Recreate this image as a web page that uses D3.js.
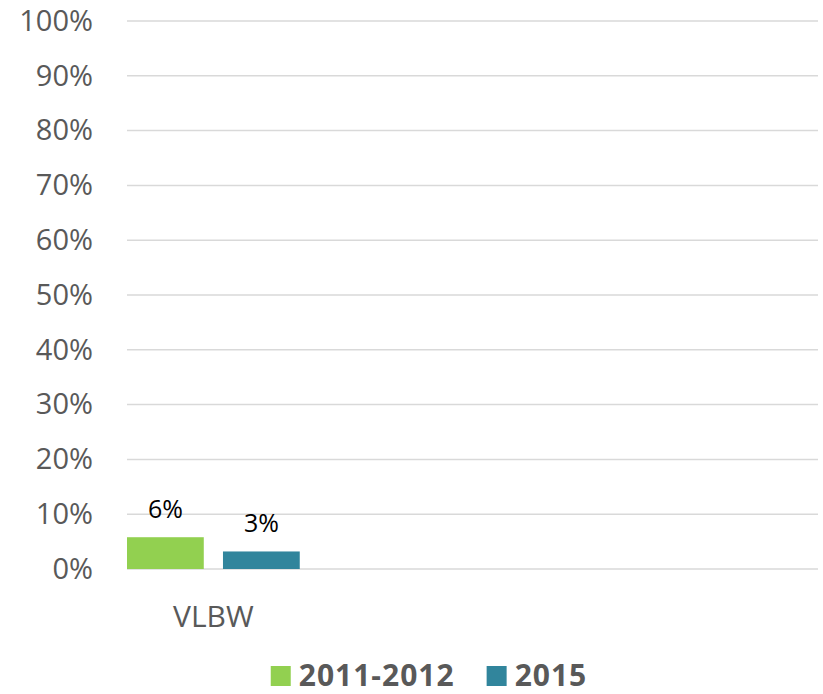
<!DOCTYPE html>
<html>
<head>
<meta charset="utf-8">
<script src="https://cdn.jsdelivr.net/npm/d3@7"></script>
<style>
  body { margin: 0; background: #fff; }
  text { font-family: "Open Sans", "Noto Sans", sans-serif; }
</style>
</head>
<body>
<div id="chart"></div>
<script>
// data
var categories = ["VLBW"];
var series = ["2011-2012", "2015"];
var values2011 = [5.8];
var values2015 = [3.2];
var colors = ["#92D050", "#31859C"];
var yTicks = [0, 10, 20, 30, 40, 50, 60, 70, 80, 90, 100];

var W = 823, H = 694;
var margin = {top: 21, right: 5, bottom: 125, left: 127};
var width = W - margin.left - margin.right;
var height = H - margin.top - margin.bottom;

var svg = d3.select("#chart").append("svg")
    .attr("width", W)
    .attr("height", H)
  .append("g")
    .attr("transform", "translate(" + margin.left + "," + margin.top + ")");

// the category occupies the first quarter of the plot, rest is empty
var x0 = d3.scaleBand()
    .domain(categories)
    .range([0, width / 4])
    .padding(0);
var x1 = d3.scaleBand()
    .domain(series)
    .range([0, x0.bandwidth()])
    .paddingInner(0.2)
    .paddingOuter(0);
var y = d3.scaleLinear()
    .domain([0, 100])
    .range([height, 0]);

// gridlines
svg.append("g")
    .selectAll("line")
    .data(yTicks)
    .enter().append("line")
    .attr("x1", 0)
    .attr("x2", width)
    .attr("y1", function(d) { return y(d); })
    .attr("y2", function(d) { return y(d); })
    .attr("stroke", "#D9D9D9")
    .attr("stroke-width", 1.5);

// y axis labels
var yAxis = svg.append("g")
    .call(d3.axisLeft(y).tickValues(yTicks).tickSize(0).tickPadding(34)
        .tickFormat(function(d) { return d + "%"; }));
yAxis.select(".domain").remove();
yAxis.selectAll("text")
    .style("font-size", "29px")
    .attr("fill", "#595959");

// bars
var rows = categories.map(function(c, i) {
  return {cat: c, vals: [values2011[i], values2015[i]]};
});

var groups = svg.selectAll(".grp")
    .data(rows)
    .enter().append("g")
    .attr("class", "grp")
    .attr("transform", function(d) { return "translate(" + x0(d.cat) + ",0)"; });

groups.selectAll("rect")
    .data(function(d) { return d.vals.map(function(v, j) { return {s: series[j], v: v, c: colors[j]}; }); })
    .enter().append("rect")
    .attr("x", function(d) { return x1(d.s); })
    .attr("y", function(d) { return y(d.v); })
    .attr("width", x1.bandwidth())
    .attr("height", function(d) { return height - y(d.v); })
    .attr("fill", function(d) { return d.c; });

groups.selectAll(".lbl")
    .data(function(d) { return d.vals.map(function(v, j) { return {s: series[j], v: v}; }); })
    .enter().append("text")
    .attr("class", "lbl")
    .attr("x", function(d) { return x1(d.s) + x1.bandwidth() / 2; })
    .attr("y", function(d) { return y(d.v) - 19; })
    .attr("text-anchor", "middle")
    .style("font-size", "25px")
    .attr("fill", "#000")
    .text(function(d) { return Math.round(d.v) + "%"; });

// category axis labels
svg.append("g")
    .selectAll("text")
    .data(categories)
    .enter().append("text")
    .attr("x", function(d) { return x0(d) + x0.bandwidth() / 2; })
    .attr("y", height + 58)
    .attr("text-anchor", "middle")
    .style("font-size", "30px")
    .attr("fill", "#595959")
    .text(function(d) { return d; });

// legend
var legend = d3.select("svg").append("g");
var lx = 0;
series.forEach(function(s, i) {
  var item = legend.append("g").attr("transform", "translate(" + lx + ",0)");
  item.append("rect")
      .attr("x", 0).attr("y", -20)
      .attr("width", 20).attr("height", 20)
      .attr("fill", colors[i]);
  var t = item.append("text")
      .attr("x", 28)
      .attr("y", 0)
      .style("font-size", "30px")
      .style("font-weight", "bold")
      .style("letter-spacing", "1px")
      .attr("fill", "#595959")
      .text(s);
  lx += 28 + t.node().getComputedTextLength() + 32;
});
var legendW = lx - 32;
legend.attr("transform", "translate(" + (429 - legendW / 2) + ",686)");
</script>
</body>
</html>
